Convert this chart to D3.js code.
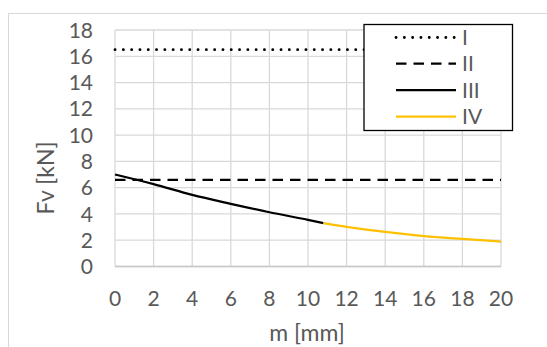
<!DOCTYPE html>
<html>
<head>
<meta charset="utf-8">
<script src="https://cdn.jsdelivr.net/npm/d3@7"></script>
<style>
  body { margin: 0; background: #fff; }
  text { font-family: Lato, "Open Sans", sans-serif; fill: #595959; }
</style>
</head>
<body>
<div id="chart"></div>
<script>
// values
const xTicks = [0, 2, 4, 6, 8, 10, 12, 14, 16, 18, 20];
const yTicks = [0, 2, 4, 6, 8, 10, 12, 14, 16, 18];
const seriesI = [[0, 16.5], [20, 16.5]];
const seriesII = [[0, 6.6], [20, 6.6]];
const seriesIII = [[0, 7.0], [2, 6.27], [4, 5.45], [6, 4.77], [8, 4.13], [10, 3.55], [10.8, 3.3]];
const seriesIV = [[10.8, 3.3], [12, 3.02], [14, 2.63], [16, 2.32], [18, 2.1], [20, 1.9]];
const legendNames = ['I', 'II', 'III', 'IV'];

const W = 547, H = 347;
const svg = d3.select('#chart').append('svg').attr('width', W).attr('height', H);

// outer chart frame
svg.append('rect').attr('x', 8.5).attr('y', 13.5).attr('width', 600).attr('height', 400)
  .attr('fill', 'none').attr('stroke', '#d9d9d9').attr('stroke-width', 1);

const x = d3.scaleLinear().domain([0, 20]).range([115, 501]);
const y = d3.scaleLinear().domain([0, 18]).range([266.5, 30]);

// grid
svg.append('g').selectAll('line').data(yTicks).enter().append('line')
  .attr('x1', x(0)).attr('x2', x(20))
  .attr('y1', d => y(d)).attr('y2', d => y(d))
  .attr('stroke', '#d9d9d9').attr('stroke-width', 1.3);
svg.append('g').selectAll('line').data(xTicks).enter().append('line')
  .attr('x1', d => x(d)).attr('x2', d => x(d))
  .attr('y1', y(0)).attr('y2', y(18))
  .attr('stroke', '#d9d9d9').attr('stroke-width', 1.3);
svg.append('line').attr('x1', x(0)).attr('x2', x(20)).attr('y1', y(0)).attr('y2', y(0))
  .attr('stroke', '#c8c8c8').attr('stroke-width', 1.3);

// tick labels
svg.append('g').selectAll('text').data(yTicks).enter().append('text')
  .attr('x', 93).attr('y', d => y(d)).attr('dy', '0.36em')
  .attr('text-anchor', 'end').attr('font-size', 21).text(d => d);
svg.append('g').selectAll('text').data(xTicks).enter().append('text')
  .attr('x', d => x(d)).attr('y', 298).attr('dy', '0.36em')
  .attr('text-anchor', 'middle').attr('font-size', 21).text(d => d);

// titles
svg.append('text').attr('x', 307).attr('y', 333).attr('dy', '0.36em')
  .attr('text-anchor', 'middle').attr('font-size', 23).text('m [mm]');
svg.append('text').attr('transform', 'translate(46,178) rotate(-90)').attr('dy', '0.36em')
  .attr('text-anchor', 'middle').attr('font-size', 23).text('Fv [kN]');

const line = d3.line().x(d => x(d[0])).y(d => y(d[1]));
const smooth = d3.line().x(d => x(d[0])).y(d => y(d[1])).curve(d3.curveMonotoneX);

const styles = [
  { data: seriesI, gen: line, color: '#000', width: 2.8, dash: '0.1 8.2', cap: 'round' },
  { data: seriesII, gen: line, color: '#000', width: 2.25, dash: '10.5 7', cap: 'butt' },
  { data: seriesIII, gen: smooth, color: '#000', width: 2.25, dash: null, cap: 'butt' },
  { data: seriesIV, gen: smooth, color: '#ffc000', width: 2.25, dash: null, cap: 'butt' }
];

styles.forEach(s => {
  svg.append('path').datum(s.data).attr('d', s.gen)
    .attr('fill', 'none').attr('stroke', s.color).attr('stroke-width', s.width)
    .attr('stroke-dasharray', s.dash).attr('stroke-linecap', s.cap);
});

// legend
const lg = svg.append('g');
lg.append('rect').attr('x', 364).attr('y', 24.5).attr('width', 148.5).attr('height', 106)
  .attr('fill', '#fff').attr('stroke', '#000').attr('stroke-width', 1.3);
const rowY = [37.5, 63.5, 90, 116.5];
styles.forEach((s, i) => {
  lg.append('line').attr('x1', 396).attr('x2', s.dash === '0.1 8.2' ? 455 : 456)
    .attr('y1', rowY[i]).attr('y2', rowY[i])
    .attr('stroke', s.color).attr('stroke-width', s.width)
    .attr('stroke-dasharray', s.dash).attr('stroke-linecap', s.cap);
  lg.append('text').attr('x', 462).attr('y', rowY[i]).attr('dy', '0.36em')
    .attr('font-size', 21).text(legendNames[i]);
});
</script>
</body>
</html>
